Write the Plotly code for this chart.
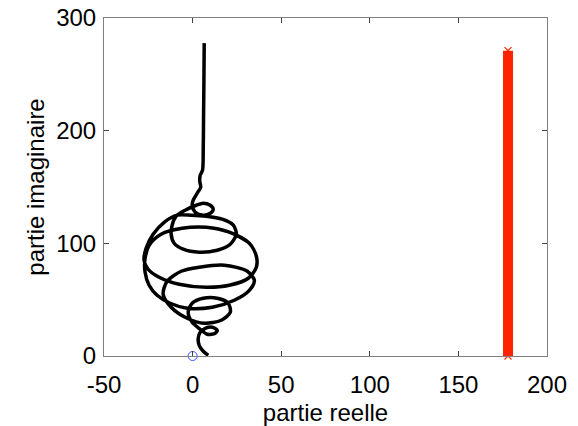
import plotly.graph_objects as go

# Black locus (partie reelle / partie imaginaire), traced from top of stem to bottom
locus_re = [6.56, 6.39, 6.17, 6.0, 5.6, 4.3, 4.02, 4.58, 2.6, 0.34,
            -0.23, 1.47, 6.0, 9.95, 11.65, 9.95, 6.0, 2.04,
            -4.19, -9.28, -11.54, -12.1, -10.41, -5.32, 3.73, 13.91, 21.27, 24.66, 22.96, 16.74, 7.69, -0.79,
            -8.71, -16.06, -22.28, -26.24, -27.38,
            -25.11, -18.89, -7.58, 7.69, 20.7, 31.45, 35.97, 35.97,
            32.01, 20.7, 7.69, -5.88, -17.76, -24.55, -26.81,
            -26.81, -24.55, -20.02, -12.67, -3.05,
            11.09, 23.53, 32.01, 34.84,
            30.88, 17.87, 3.73, -6.45, -14.37,
            -16.63, -12.1, -3.05,
            6.56, 16.18, 21.27, 20.13, 13.91, 6.0, -0.23, -2.49, -0.23,
            4.3, 8.26, 12.78, 13.91, 11.09, 7.13, 4.3,
            3.17, 3.73, 6.0, 8.82]
locus_im = [277.7, 244.9, 209.3, 182.7, 164.9, 160.5, 155.1, 149.8, 144.5, 138.3,
            133.8, 127.6, 125.0, 126.7, 130.3, 133.8, 135.6, 133.8,
            129.4, 124.1, 116.1, 108.1, 100.1, 94.8, 92.1, 93.9, 99.2, 108.1, 116.1, 121.4, 124.1, 125.0,
            125.0, 118.7, 108.1, 95.6, 85.0,
            77.0, 69.9, 63.7, 61.0, 62.8, 69.0, 78.8, 88.5,
            100.1, 109.9, 114.3, 113.4, 108.1, 98.3, 86.8,
            74.3, 62.8, 53.9, 46.8, 42.4,
            43.3, 49.5, 58.3, 67.2,
            75.2, 80.6, 78.8, 75.2, 66.3,
            54.8, 43.3, 33.5,
            29.0, 31.7, 38.8, 46.8, 51.2, 51.2, 46.8, 38.8, 29.9,
            23.7, 19.3, 20.2, 22.8, 25.5, 24.6, 21.0,
            15.7, 9.5, 4.2, 0.6]

# Red vertical locus
red_re = [178, 178]
red_im = [0, 271]

# Blue origin marker
origin_re = [0]
origin_im = [0]

x_ticks = [-50, 0, 50, 100, 150, 200]
y_ticks = [0, 100, 200, 300]

FONT = "Liberation Sans, Arial, sans-serif"

fig = go.Figure()
fig.add_trace(go.Scatter(x=red_re, y=red_im, mode="lines+markers",
                         line=dict(color="#ff2200", width=10),
                         marker=dict(symbol="x-thin", size=7,
                                     line=dict(color="#ff2200", width=1.2), color="#ff2200"),
                         cliponaxis=False, showlegend=False, hoverinfo="skip"))
fig.add_trace(go.Scatter(x=locus_re, y=locus_im, mode="lines",
                         line=dict(color="black", width=3.5, shape="spline", smoothing=0.8),
                         showlegend=False))
fig.add_trace(go.Scatter(x=origin_re, y=origin_im, mode="markers",
                         marker=dict(symbol="circle-open", size=9,
                                     line=dict(color="#3355ff", width=1), color="#3355ff"),
                         cliponaxis=False, showlegend=False))

axis_common = dict(showgrid=False, zeroline=False, showline=True, mirror="ticks",
                   linecolor="#808080", linewidth=1, ticks="inside", ticklen=5,
                   tickcolor="#404040", tickwidth=1, automargin=False,
                   ticklabeloverflow="allow",
                   tickfont=dict(family=FONT, size=24, color="black"))

# The page body has an 8px margin, so the figure is sized to sit inside the 578x426 window.
fig.update_layout(
    width=570, height=418,
    margin=dict(l=96, r=31, t=10, b=70),
    paper_bgcolor="white", plot_bgcolor="white",
    xaxis=dict(range=[-50, 200], tickvals=x_ticks, ticktext=[str(v) for v in x_ticks],
               ticklabelstandoff=7,
               title=dict(text="partie reelle", font=dict(family=FONT, size=24, color="black"), standoff=8),
               **axis_common),
    yaxis=dict(range=[0, 300], tickvals=y_ticks, ticktext=[str(v) for v in y_ticks],
               ticklabelstandoff=2,
               title=dict(text="partie imaginaire", font=dict(family=FONT, size=24, color="black"), standoff=4),
               **axis_common),
)

fig.write_html("out.html")
